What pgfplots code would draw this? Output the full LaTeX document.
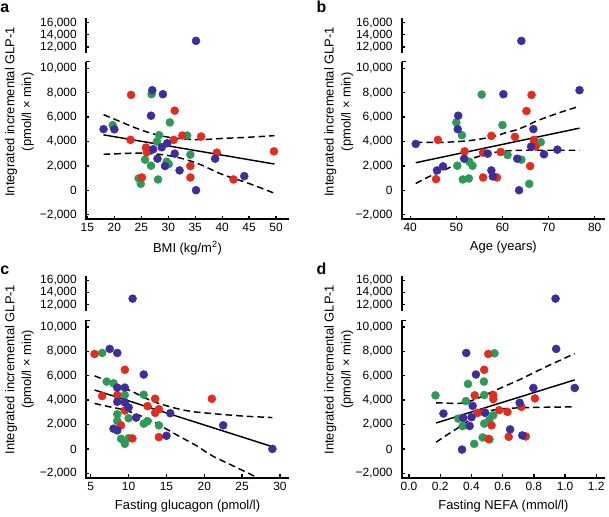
\documentclass[border=0pt]{standalone}
\usepackage{pgfplots}
\pgfplotsset{compat=1.18}
\usepackage{pgfplotstable}
\usepackage{fontspec}
\setmainfont{Liberation Sans}

\definecolor{cb}{RGB}{62,46,155}
\definecolor{cr}{RGB}{226,45,30}
\definecolor{cg}{RGB}{46,154,88}

% x y c  (g = green, r = red, b = blue)
\pgfplotstableread{
x y c
19.7 5344 g
26.9 7879 g
30.3 5565 g
28.3 4518 g
33.5 4490 g
27.9 3994 g
25.7 2507 g
26.8 2011 g
29.7 2342 g
30.1 2149 g
34.1 2920 g
24.5 964 g
24.9 523 g
28.1 882 g
23.1 7824 r
23.0 4132 r
25.85 3499 r
26.0 3113 r
25.1 1047 r
31.2 6529 r
31.0 4132 r
32.6 4490 r
36.1 4408 r
34.1 1983 r
34.1 1047 r
39.0 3085 r
42.1 882 r
49.6 3196 r
35.15 13000 b
18.0 5014 b
20.0 5000 b
27.04 8209 b
29.0 7879 b
26.8 6116 b
27.2 3360 b
28.0 2590 b
28.8 3526 b
29.8 3857 b
29.4 1983 b
31.2 3003 b
32.1 1625 b
35.15 0 b
38.7 2590 b
44.1 1157 b
}\dataA

\pgfplotstableread{
x y c
55.5 7851 g
50.0 5565 g
51.2 4518 g
60.0 5344 g
50.2 2011 g
52.8 2342 g
53.5 2011 g
51.4 882 g
52.7 964 g
61.1 2893 g
64.1 2507 g
65.8 523 g
68.3 3939 g
46.0 4132 r
45.6 909 r
51.8 3196 r
55.8 3085 r
55.8 1047 r
57.6 4463 r
58.8 1047 r
59.6 3140 r
62.7 4380 r
65.2 6501 r
66.3 7824 r
66.8 4132 r
67.2 3581 r
66.0 1983 r
64.1 13000 b
41.2 3800 b
45.8 1625 b
47.1 1956 b
50.4 6116 b
50.3 5014 b
51.7 2590 b
56.8 3003 b
57.6 1625 b
57.9 1129 b
60.2 7879 b
63.2 2590 b
63.6 0 b
66.2 3581 b
66.7 5014 b
69.0 2948 b
71.9 3333 b
76.7 8209 b
}\dataB

\pgfplotstableread{
x y c
6.5 7873 g
7.1 5525 g
8.0 5387 g
9.5 4420 g
12.0 4448 g
8.5 2845 g
8.5 2293 g
10.0 2514 g
9.0 829 g
9.5 414 g
10.0 884 g
12.0 2072 g
12.5 2265 g
14.0 1934 g
5.5 7790 r
6.5 4337 r
8.5 4420 r
9.5 6492 r
9.5 3149 r
9.0 1934 r
10.5 856 r
12.5 3508 r
13.5 4116 r
13.5 2956 r
14.0 3260 r
14.0 967 r
21.0 4116 r
10.53 13000 b
7.5 8204 b
8.5 7873 b
12.0 6105 b
8.5 5028 b
9.5 5028 b
8.5 3867 b
9.5 3812 b
10.0 3398 b
8.0 1657 b
8.5 1519 b
11.0 2569 b
15.5 2928 b
15.0 1077 b
22.5 1934 b
29.0 0 b
}\dataC

\pgfplotstableread{
x y c
0.170 4392 g
0.378 5331 g
0.480 5525 g
0.548 7845 g
0.482 4420 g
0.365 3923 g
0.316 2486 g
0.344 1878 g
0.482 2072 g
0.514 2348 g
0.540 2762 g
0.472 939 g
0.418 414 g
0.516 773 g
0.421 4392 r
0.482 6492 r
0.508 7790 r
0.482 3011 r
0.440 2956 r
0.540 4420 r
0.540 4088 r
0.529 1934 r
0.578 3177 r
0.631 3039 r
0.720 3453 r
0.807 4144 r
0.508 829 r
0.639 994 r
0.748 1022 r
0.939 13000 b
0.943 8204 b
1.062 5000 b
0.797 5000 b
0.709 3785 b
0.367 7873 b
0.429 6105 b
0.221 2900 b
0.408 3536 b
0.348 2541 b
0.401 2597 b
0.389 1878 b
0.489 2956 b
0.340 -55 b
0.648 1602 b
0.726 1105 b
}\dataD

\pgfplotsset{
  panel/.style={scale only axis, width=153pt, clip=true,
    axis line style={draw=none},
    tick style={draw=black, line width=1pt},
    major tick length=2.5pt, tick align=inside,
    xtick pos=left, ytick pos=left,
    tick label style={font=\fontsize{9}{10}\selectfont},
    /pgf/number format/assume math mode=true,
    scaled y ticks=false,
    yticklabel style={xshift=-3.5pt}},
  low/.style={panel, height=118.5pt, ymin=-2350, ymax=10550,
    ytick={-2000,0,2000,4000,6000,8000,10000},
    yticklabels={{−2,000},{0},{2,000},{4,000},{6,000},{8,000},{10,000}},
    xlabel style={font=\fontsize{9.75}{11}\selectfont},
    after end axis/.code={
      \draw[line width=1.5pt] (rel axis cs:0,1) -- (rel axis cs:0,0) -- (rel axis cs:1,0);
      \draw[line width=1.2pt] (rel axis cs:0,1) -- ++(3pt,0);}},
  up/.style={panel, height=26.25pt, ymin=11000, ymax=16750,
    xtick=\empty,
    ytick={12000,14000,16000},
    yticklabels={{12,000},{14,000},{16,000}},
    after end axis/.code={
      \draw[line width=1.5pt] (rel axis cs:0,0) -- (rel axis cs:0,1);}},
  dots/.style={scatter, only marks, mark=*, mark size=3pt,
    scatter src=explicit symbolic,
    scatter/classes={g={draw=cg,fill=cg}, r={draw=cr,fill=cr}, b={draw=cb,fill=cb}}},
  fit/.style={black, line width=1.1pt, no marks},
  band/.style={black, line width=1.1pt, no marks, smooth, dash pattern=on 5pt off 3pt}
}

\begin{document}
\begin{tikzpicture}

% ---- a ----
\begin{axis}[up, at={(64.9pt,347.8pt)}, anchor=south west, xmin=14.76, xmax=52.4]
\addplot[dots] table[x=x, y=y, meta=c] {\dataA};
\end{axis}
\begin{axis}[low, at={(64.9pt,222.75pt)}, anchor=south west, xmin=14.76, xmax=52.4,
  xtick={15,20,...,50}, xlabel={BMI (kg/m\textsuperscript{2})}]
\addplot[dots] table[x=x, y=y, meta=c] {\dataA};
\addplot[fit] coordinates {(18,4545) (49.7,2149)};
\addplot[band] coordinates {(18,6200)(21,5650)(24,5100)(27,4650)(30,4350)(33,4200)(36,4150)(40,4250)(45,4350)(49.7,4480)};
\addplot[band] coordinates {(18,2950)(21,3000)(24,3050)(27,3000)(30,2850)(33,2550)(36,2100)(40,1300)(45,550)(49.7,-250)};
\end{axis}

% ---- b ----
\begin{axis}[up, at={(303pt,347.8pt)}, anchor=south west, xmin=38.2, xmax=82.2]
\addplot[dots] table[x=x, y=y, meta=c] {\dataB};
\end{axis}
\begin{axis}[low, at={(303pt,222.75pt)}, anchor=south west, xmin=38.2, xmax=82.2,
  xtick={40,50,...,80}, xlabel={Age (years)}]
\addplot[dots] table[x=x, y=y, meta=c] {\dataB};
\addplot[fit] coordinates {(41.2,2259) (76.7,5096)};
\addplot[band] coordinates {(41.2,3940)(45,3920)(49,3960)(53,4080)(56,4250)(58.6,4470)(61,4750)(63,4950)(65,5250)(67.2,5650)(70,6050)(73,6450)(76.7,6890)};
\addplot[band] coordinates {(41.2,550)(44,1100)(47,1600)(50,2100)(53,2550)(56,2900)(59,3150)(62,3250)(65,3280)(70,3280)(76.7,3280)};
\end{axis}

% ---- c ----
\begin{axis}[up, at={(64.9pt,153.5pt)}, anchor=south west, xmin=4.38, xmax=31.2]
\addplot[dots] table[x=x, y=y, meta=c] {\dataC};
\end{axis}
\begin{axis}[low, at={(64.9pt,27.75pt)}, anchor=south west, xmin=4.38, xmax=31.2,
  xtick={5,10,...,30}, xlabel={Fasting glucagon (pmol/l)}]
\addplot[dots] table[x=x, y=y, meta=c] {\dataC};
\addplot[fit] coordinates {(5.5,4834) (28.8,220)};
\addplot[band] coordinates {(5.5,6000)(8,5350)(10.5,4700)(13,3950)(15.5,3450)(18,3100)(21,2900)(25,2700)(29,2570)};
\addplot[band] coordinates {(5.5,3730)(7.5,3450)(9.5,3180)(12.5,2480)(14.5,1800)(16.5,1100)(19,250)(21,-550)(24,-1450)(27,-2350)(28,-2650)};
\end{axis}

% ---- d ----
\begin{axis}[up, at={(303pt,153.5pt)}, anchor=south west, xmin=-0.045, xmax=1.255]
\addplot[dots] table[x=x, y=y, meta=c] {\dataD};
\end{axis}
\begin{axis}[low, at={(303pt,27.75pt)}, anchor=south west, xmin=-0.045, xmax=1.255,
  xtick={0,0.2,0.4,0.6,0.8,1.0,1.2}, xticklabels={0.0,0.2,0.4,0.6,0.8,1.0,1.2},
  xlabel={Fasting NEFA (mmol/l)}]
\addplot[dots] table[x=x, y=y, meta=c] {\dataD};
\addplot[fit] coordinates {(0.174,2127) (1.062,5663)};
\addplot[band] coordinates {(0.174,3785)(0.25,3750)(0.323,3730)(0.38,3880)(0.429,4090)(0.48,4380)(0.535,4700)(0.62,5180)(0.705,5660)(0.88,6750)(1.062,7820)};
\addplot[band] coordinates {(0.174,550)(0.25,1200)(0.323,1800)(0.38,2300)(0.429,2760)(0.48,3000)(0.535,3180)(0.62,3300)(0.705,3370)(0.88,3420)(1.062,3450)};
\end{axis}

% y labels and panel letters
\foreach \px/\py in {14.6pt/303.4pt, 255.4pt/303.4pt, 14.6pt/109.1pt, 255.4pt/109.1pt}
  \node[rotate=90, align=center, font=\fontsize{9.75}{12.75}\selectfont] at (\px,\py)
    {Integrated incremental GLP-1\\(pmol/l × min)};
\node[anchor=base west, inner sep=0pt, font=\fontsize{12}{12}\selectfont\bfseries] at (0pt,378.4pt) {a};
\node[anchor=base west, inner sep=0pt, font=\fontsize{12}{12}\selectfont\bfseries] at (238.5pt,378.4pt) {b};
\node[anchor=base west, inner sep=0pt, font=\fontsize{12}{12}\selectfont\bfseries] at (0pt,181.1pt) {c};
\node[anchor=base west, inner sep=0pt, font=\fontsize{12}{12}\selectfont\bfseries] at (238.5pt,181.1pt) {d};
\path (0pt,0pt) (456.75pt,387.75pt);
\end{tikzpicture}
\end{document}
